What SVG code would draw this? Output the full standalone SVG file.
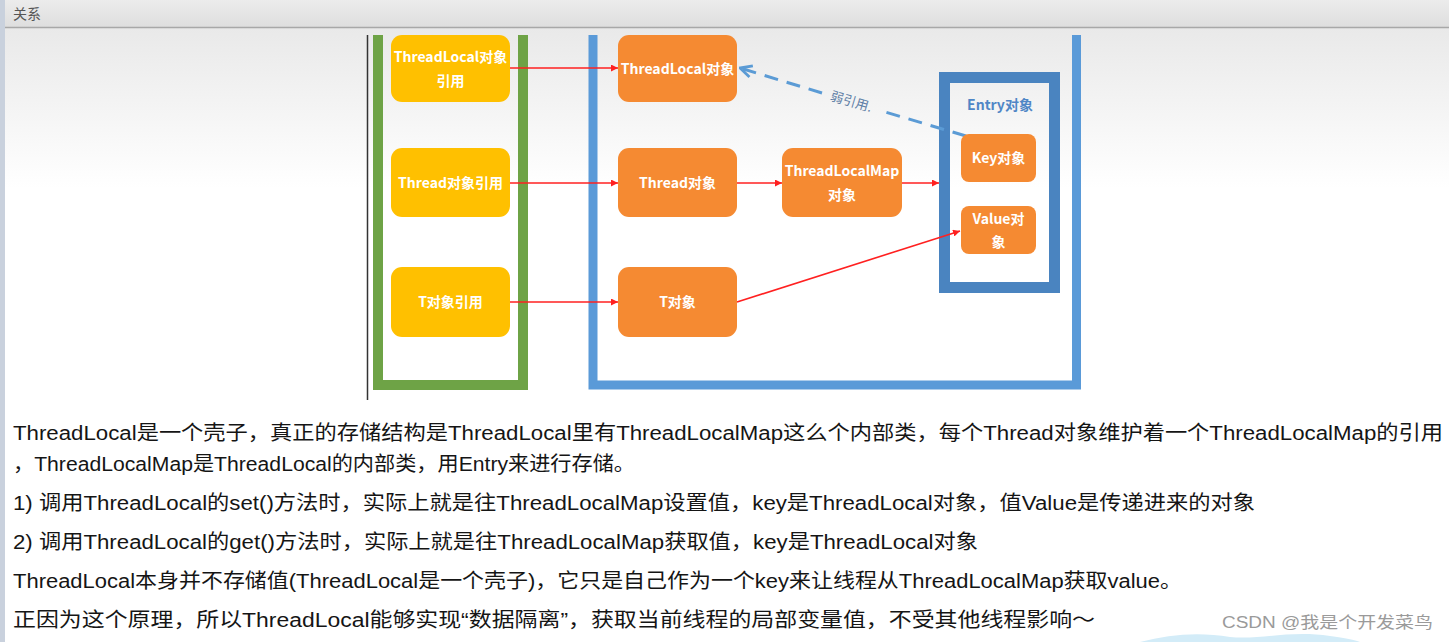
<svg xmlns="http://www.w3.org/2000/svg" width="1449" height="642" viewBox="0 0 1449 642">
<defs>
<linearGradient id="hdr" x1="0" y1="0" x2="0" y2="1"><stop offset="0" stop-color="#ececec"/><stop offset="1" stop-color="#dedede"/></linearGradient>
<linearGradient id="bgfade" x1="0" y1="0" x2="0" y2="1"><stop offset="0" stop-color="#e9e9e9"/><stop offset="1" stop-color="#ffffff"/></linearGradient>
<marker id="ar" viewBox="0 0 10 10" refX="10" refY="5" markerWidth="7" markerHeight="7" markerUnits="userSpaceOnUse" orient="auto"><path d="M0,0 L10,5 L0,10 z" fill="#ff2020"/></marker>
<marker id="ab" viewBox="0 0 12 12" refX="11" refY="6" markerWidth="14" markerHeight="14" markerUnits="userSpaceOnUse" orient="auto"><path d="M1,1 L11,6 L1,11" fill="none" stroke="#5b9bd5" stroke-width="2.4"/></marker>
</defs>
<style>
.y{fill:#ffc000}
.o{fill:#f58a32}
.nt{font-family:"Noto Sans CJK SC","Liberation Sans",sans-serif;font-weight:700;font-size:14px;fill:#ffffff;text-anchor:middle}
.rl{stroke:#ff2020;stroke-width:1.6;fill:none;marker-end:url(#ar)}
.dl{stroke:#5b9bd5;stroke-width:3;stroke-dasharray:14,9;fill:none}
.bd{font-family:"Liberation Sans","Noto Sans CJK SC",sans-serif;font-size:20px;fill:#151515}
</style>
<rect x="0" y="0" width="1449" height="642" fill="#ffffff"/>
<rect x="5" y="28" width="1444" height="160" fill="url(#bgfade)"/>
<rect x="0" y="0" width="1449" height="27" fill="url(#hdr)"/>
<line x1="0" y1="27.5" x2="1449" y2="27.5" stroke="#a8a8a8" stroke-width="1.5"/>
<rect x="0" y="0" width="5" height="642" fill="#c9d1dd"/>
<text x="13" y="19" font-family="Noto Sans CJK SC, sans-serif" font-size="14" fill="#555555">关系</text>
<line x1="367.5" y1="35" x2="367.5" y2="400" stroke="#333333" stroke-width="1.5"/>

<g id="green-container"><path d="M378,35 V385 H523 V35" fill="none" stroke="#6ea346" stroke-width="10"/></g>
<g id="blue-container"><path d="M593,35 V385 H1076.5 V35" fill="none" stroke="#5a9ad8" stroke-width="9"/></g>
<g id="entry"><rect x="944.5" y="77.5" width="110" height="210" fill="none" stroke="#4a84c0" stroke-width="11"/>
<text x="1000" y="110" font-family="Noto Sans CJK SC, sans-serif" font-weight="700" font-size="14" fill="#4f86c6" text-anchor="middle">Entry对象</text></g>

<g id="connectors">
<line class="rl" x1="510" y1="68" x2="618" y2="68"/>
<line class="rl" x1="510" y1="183" x2="618" y2="183"/>
<line class="rl" x1="737" y1="183" x2="782" y2="183"/>
<line class="rl" x1="902" y1="183" x2="939" y2="183"/>
<line class="rl" x1="510" y1="302" x2="618" y2="302"/>
<line class="rl" x1="737" y1="302" x2="960" y2="231"/>
<line class="dl" x1="966" y1="136" x2="882" y2="111"/>
<line class="dl" x1="822" y1="93" x2="740" y2="68" marker-end="url(#ab)"/>
<text transform="translate(850,106) rotate(16.7)" font-family="Noto Sans CJK SC, sans-serif" font-size="13" fill="#5f7fa6" text-anchor="middle">弱引用.</text>
</g>

<g id="tl-ref"><rect class="y" x="391" y="35" width="119" height="67" rx="11"/><text class="nt" x="450.5" y="62">ThreadLocal对象</text><text class="nt" x="450.5" y="86">引用</text></g>
<g id="thread-ref"><rect class="y" x="391" y="148" width="119" height="69" rx="11"/><text class="nt" x="450.5" y="188">Thread对象引用</text></g>
<g id="t-ref"><rect class="y" x="391" y="267" width="119" height="70" rx="11"/><text class="nt" x="450.5" y="307">T对象引用</text></g>
<g id="tl-obj"><rect class="o" x="618" y="35" width="119" height="67" rx="11"/><text class="nt" x="677.5" y="74">ThreadLocal对象</text></g>
<g id="thread-obj"><rect class="o" x="618" y="148" width="119" height="69" rx="11"/><text class="nt" x="677.5" y="188">Thread对象</text></g>
<g id="t-obj"><rect class="o" x="618" y="267" width="119" height="70" rx="11"/><text class="nt" x="677.5" y="307">T对象</text></g>
<g id="tlmap-obj"><rect class="o" x="782" y="148" width="120" height="69" rx="11"/><text class="nt" x="842" y="176">ThreadLocalMap</text><text class="nt" x="842" y="200">对象</text></g>
<g id="key-obj"><rect class="o" x="961" y="134" width="75" height="48" rx="8"/><text class="nt" x="998.5" y="163">Key对象</text></g>
<g id="value-obj"><rect class="o" x="961" y="206" width="75" height="48" rx="8"/><text class="nt" x="998.5" y="224">Value对</text><text class="nt" x="998.5" y="247">象</text></g>

<g id="body-text">
<text class="bd" x="13" y="440" textLength="1430" lengthAdjust="spacingAndGlyphs">ThreadLocal是一个壳子，真正的存储结构是ThreadLocal里有ThreadLocalMap这么个内部类，每个Thread对象维护着一个ThreadLocalMap的引用</text>
<text class="bd" x="13" y="471" textLength="622" lengthAdjust="spacingAndGlyphs">，ThreadLocalMap是ThreadLocal的内部类，用Entry来进行存储。</text>
<text class="bd" x="13" y="510" textLength="1242" lengthAdjust="spacingAndGlyphs">1) 调用ThreadLocal的set()方法时，实际上就是往ThreadLocalMap设置值，key是ThreadLocal对象，值Value是传递进来的对象</text>
<text class="bd" x="13" y="549" textLength="965" lengthAdjust="spacingAndGlyphs">2) 调用ThreadLocal的get()方法时，实际上就是往ThreadLocalMap获取值，key是ThreadLocal对象</text>
<text class="bd" x="13" y="588" textLength="1169" lengthAdjust="spacingAndGlyphs">ThreadLocal本身并不存储值(ThreadLocal是一个壳子)，它只是自己作为一个key来让线程从ThreadLocalMap获取value。</text>
<text class="bd" x="13" y="627" textLength="1082" lengthAdjust="spacingAndGlyphs">正因为这个原理，所以ThreadLocal能够实现“数据隔离”，获取当前线程的局部变量值，不受其他线程影响～</text>
</g>
<path d="M1140,642 C1170,634 1200,632 1230,637 C1260,640 1290,630 1330,636 C1345,638 1355,640 1360,642 Z" fill="#d3ecf8"/>
<text x="1222" y="628" font-family="Liberation Sans, Noto Sans CJK SC, sans-serif" font-size="16" fill="#9a9a9a" textLength="211" lengthAdjust="spacingAndGlyphs">CSDN @我是个开发菜鸟</text>
</svg>
